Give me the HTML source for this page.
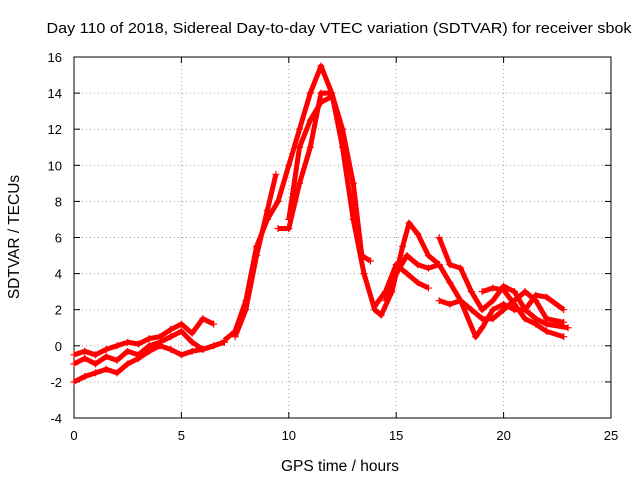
<!DOCTYPE html>
<html><head><meta charset="utf-8"><style>
body{margin:0;background:#fff}
svg{font-family:"Liberation Sans",sans-serif;font-size:13px}
</style></head><body>
<svg id="chart" width="640" height="480">
<text x="339" y="33" text-anchor="middle" font-size="15" textLength="585" lengthAdjust="spacingAndGlyphs">Day 110 of 2018, Sidereal Day-to-day VTEC variation (SDTVAR) for receiver sbok</text>
<text x="340" y="471" text-anchor="middle" font-size="15.5">GPS time / hours</text>
<text transform="translate(19,237) rotate(-90)" text-anchor="middle" font-size="15.5">SDTVAR / TECUs</text>
<g id="grid"></g><g id="axes"></g><g id="marks"></g>
</svg>
<script>
const xTicks=[0,5,10,15,20,25];
const yTicks=[-4,-2,0,2,4,6,8,10,12,14,16];
const trackA=[[0,-0.5],[0.5,-0.3],[1,-0.5],[1.5,-0.2],[2,0],[2.5,0.2],[3,0.1],[3.5,0.4],[4,0.5],[4.5,0.9],[5,1.2],[5.5,0.7],[6,1.5],[6.5,1.2]];
const trackB=[[0,-1.0],[0.5,-0.7],[1,-1.0],[1.5,-0.6],[2,-0.8],[2.5,-0.3],[3,-0.5],[3.5,0],[4,0.2],[4.5,0.5],[5,0.8],[5.5,0.2],[6,-0.2],[6.5,0],[7,0.2]];
const trackC=[[0,-2.0],[0.5,-1.7],[1,-1.5],[1.5,-1.3],[2,-1.5],[2.5,-1.0],[3,-0.7],[3.5,-0.3],[4,0],[4.5,-0.2],[5,-0.5],[5.5,-0.3],[6,-0.2],[7,0.2]];
const trackD=[[7,0.3],[7.5,0.8],[8,2.5],[8.5,5.5],[9,7],[9.5,8],[10,10],[10.5,12],[11,14],[11.5,15.5],[12,14],[12.5,11],[13,7],[13.5,4],[14,2],[14.3,1.7],[14.8,3],[15.3,5.5],[15.6,6.8],[16,6.2],[16.5,5],[17,4.5]];
const trackE=[[7.5,0.5],[8,2],[8.5,5],[9,7.5],[9.4,9.5]];
const trackF=[[9.5,6.5],[10,6.5],[10.5,9],[11,11],[11.5,14],[12,14],[12.5,12],[13,9],[13.4,5],[13.8,4.7]];
const trackG=[[10,7],[10.5,11],[11,12.5],[11.5,13.5],[12,13.8]];
const trackH=[[14,2.2],[14.5,3],[15,4.5],[15.5,4],[16,3.5],[16.5,3.2]];
const trackI=[[14.5,2.5],[15,4],[15.5,5],[16,4.5],[16.5,4.3],[17,4.5]];
const trackJ=[[17,6],[17.5,4.5],[18,4.3],[18.5,3],[19,2],[19.5,2.5],[20,3.3],[20.5,3],[21,2],[21.5,1.5],[22,1.2],[23,1]];
const trackK=[[17,4.5],[17.5,3.5],[18,2.5],[18.5,2],[19,1.5],[19.5,1.5],[20,2],[20.5,2.5],[21,3],[21.5,2.5],[22,1.5],[22.8,1.3]];
const trackL=[[17,2.5],[17.5,2.3],[18,2.5],[18.7,0.5],[19,1],[19.5,2],[20,2.3],[20.5,2],[21,2],[21.5,2.8],[22,2.7],[22.8,2]];
const trackM=[[19,3],[19.5,3.2],[20,3.1],[20.5,2.3],[21,1.5],[21.5,1.2],[22,0.8],[22.8,0.5]];
const tracks=[trackA,trackB,trackC,trackD,trackE,trackF,trackG,trackH,trackI,trackJ,trackK,trackL,trackM];
const NS='http://www.w3.org/2000/svg';
const X0=74,X1=611,Y0=418,Y1=57;
const sx=v=>X0+(v-0)/(25-0)*(X1-X0);
const sy=v=>Y0-(v+4)/(20)*(Y0-Y1);
function mk(t,a,p){const e=document.createElementNS(NS,t);for(const k in a)e.setAttribute(k,a[k]);p.appendChild(e);return e;}
const grid=document.getElementById('grid'),axes=document.getElementById('axes'),marks=document.getElementById('marks');
mk('rect',{x:X0,y:Y1,width:X1-X0,height:Y0-Y1,fill:'none',stroke:'#000'},axes);
xTicks.forEach(t=>{const x=sx(t);
 if(t>0&&t<25){const g=mk('line',{x1:x,x2:x,y1:Y1,y2:Y0,stroke:'#a0a0a0','stroke-dasharray':'1,3'},grid);
 
 }
 mk('line',{x1:x,x2:x,y1:Y0,y2:Y0-6,stroke:'#000'},axes);mk('line',{x1:x,x2:x,y1:Y1,y2:Y1+6,stroke:'#000'},axes);
 const l=mk('text',{x:x,y:Y0+22,'text-anchor':'middle'},axes);l.textContent=t;
 
 });
yTicks.forEach(t=>{const y=sy(t);
 if(t>-4&&t<16){const g=mk('line',{x1:X0,x2:X1,y1:y,y2:y,stroke:'#a0a0a0','stroke-dasharray':'1,3'},grid);
 
 }
 mk('line',{x1:X0,x2:X0+6,y1:y,y2:y,stroke:'#000'},axes);mk('line',{x1:X1,x2:X1-6,y1:y,y2:y,stroke:'#000'},axes);
 const l=mk('text',{x:X0-12,y:y+5,'text-anchor':'end'},axes);l.textContent=t;
 
 });
tracks.forEach((tr,i)=>{
 const g=mk('g',{},marks);
 
 
 mk('polyline',{points:tr.map(p=>sx(p[0])+','+sy(p[1])).join(' '),fill:'none',stroke:'#ff0000','stroke-width':5,'stroke-linejoin':'round'},g);
 tr.forEach(p=>{const x=sx(p[0]),y=sy(p[1]);
  mk('path',{d:`M${x-3.5},${y}H${x+3.5}M${x},${y-3.5}V${y+3.5}`,stroke:'#ff0000','stroke-width':1.2},g);});
});
</script>
</body></html>
